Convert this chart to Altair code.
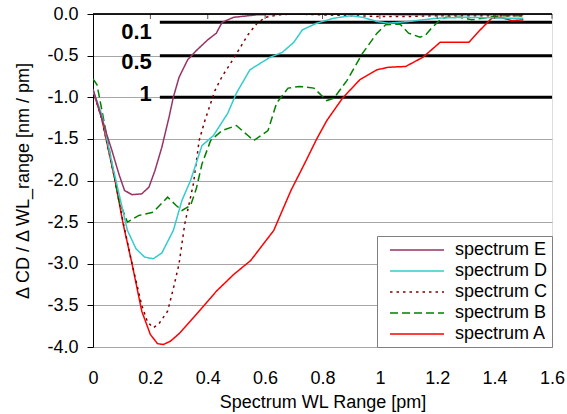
import altair as alt
import pandas as pd

series_names = ["spectrum E", "spectrum D", "spectrum C", "spectrum B", "spectrum A"]
series_colors = ["#993366", "#33CCCC", "#800000", "#008000", "#FF0000"]
series_dash = [[1, 0], [1, 0], [2.5, 4], [8, 4], [1, 0]]
series_width = [1.5, 1.5, 2.5, 2, 1.5]

a_x = [0, 0.03, 0.077, 0.105, 0.136, 0.17, 0.2, 0.225, 0.245, 0.27, 0.30, 0.36, 0.43, 0.49, 0.55,
       0.63, 0.69, 0.74, 0.78, 0.815, 0.87, 0.93, 0.99, 1.03, 1.09, 1.15, 1.21, 1.27, 1.31, 1.35,
       1.39, 1.42, 1.46, 1.50]
a_y = [-0.92, -1.25, -2.0, -2.52, -3.0, -3.57, -3.85, -3.96, -3.97, -3.93, -3.84, -3.61, -3.33,
       -3.13, -2.96, -2.6, -2.12, -1.78, -1.5, -1.28, -1.01, -0.79, -0.67, -0.64, -0.63, -0.52,
       -0.34, -0.34, -0.34, -0.19, -0.05, -0.04, -0.08, -0.07]

b_x = [0, 0.014, 0.05, 0.09, 0.12, 0.16, 0.21, 0.26, 0.29, 0.31, 0.34, 0.36, 0.38, 0.41, 0.45,
       0.50, 0.54, 0.56, 0.61, 0.64, 0.68, 0.72, 0.77, 0.815, 0.84, 0.885, 0.94, 0.99, 1.02,
       1.07, 1.1, 1.14, 1.16, 1.18, 1.21, 1.23, 1.28, 1.32, 1.38, 1.42, 1.5]
b_y = [-0.78, -0.85, -1.5, -2.24, -2.5, -2.42, -2.38, -2.2, -2.3, -2.36, -2.3, -2.1, -1.8, -1.52,
       -1.4, -1.34, -1.46, -1.52, -1.4, -1.07, -0.89, -0.87, -0.89, -1.04, -1.01, -0.8, -0.47,
       -0.23, -0.13, -0.12, -0.23, -0.28, -0.25, -0.17, -0.07, -0.04, -0.04, -0.07, -0.04, -0.02,
       -0.02]

c_x = [0, 0.03, 0.077, 0.105, 0.136, 0.17, 0.19, 0.21, 0.23, 0.26, 0.28, 0.30, 0.32, 0.35, 0.37,
       0.39, 0.425, 0.45, 0.48, 0.51, 0.54, 0.57, 0.6, 0.65, 0.7, 0.8, 1.0, 1.1, 1.2, 1.3, 1.4, 1.5]
c_y = [-0.92, -1.25, -2.0, -2.5, -3.0, -3.5, -3.7, -3.77, -3.72, -3.57, -3.3, -3.0, -2.52, -2.04,
       -1.52, -1.28, -0.92, -0.75, -0.59, -0.42, -0.25, -0.12, -0.04, -0.01, 0.0, -0.01, -0.03,
       -0.03, -0.02, -0.02, -0.02, -0.02]

d_x = [0, 0.03, 0.07, 0.1, 0.12, 0.15, 0.18, 0.21, 0.24, 0.28, 0.31, 0.34, 0.38, 0.42, 0.47, 0.50,
       0.547, 0.617, 0.66, 0.70, 0.73, 0.78, 0.84, 0.9, 0.94, 0.99, 1.03, 1.1, 1.2, 1.3, 1.45, 1.5]
d_y = [-0.92, -1.2, -1.85, -2.3, -2.6, -2.82, -2.92, -2.94, -2.87, -2.6, -2.24, -2.0, -1.58, -1.46,
       -1.19, -0.95, -0.67, -0.52, -0.46, -0.34, -0.19, -0.11, -0.05, -0.02, -0.04, -0.09, -0.11,
       -0.09, -0.05, -0.04, -0.05, -0.05]

e_x = [0, 0.04, 0.066, 0.09, 0.11, 0.136, 0.17, 0.195, 0.216, 0.24, 0.265, 0.28, 0.30, 0.33, 0.36,
       0.40, 0.43, 0.45, 0.49, 0.57, 0.7, 0.9, 1.1, 1.3, 1.5]
e_y = [-0.9, -1.36, -1.64, -1.92, -2.12, -2.17, -2.16, -2.08, -1.88, -1.6, -1.24, -1.0, -0.76,
       -0.55, -0.44, -0.31, -0.23, -0.1, -0.04, -0.01, 0.0, 0.0, -0.01, -0.01, -0.01]

ref_levels = [-0.1, -0.5, -1.0]
ref_labels = ["0.1", "0.5", "1"]
ref_label_y = [-0.22, -0.58, -0.96]
ref_x_start = 0.233
ref_x_end = 1.6
ref_label_x = 0.205

x_ticks = [0, 0.2, 0.4, 0.6, 0.8, 1.0, 1.2, 1.4, 1.6]
y_ticks = [0, -0.5, -1.0, -1.5, -2.0, -2.5, -3.0, -3.5, -4.0]

rows = []
for name, xs, ys in [("spectrum A", a_x, a_y), ("spectrum B", b_x, b_y), ("spectrum C", c_x, c_y),
                     ("spectrum D", d_x, d_y), ("spectrum E", e_x, e_y)]:
    for i, (xv, yv) in enumerate(zip(xs, ys)):
        rows.append({"series": name, "x": xv, "y": yv, "i": i})
df = pd.DataFrame(rows)

ref_df = pd.DataFrame({"level": ref_levels, "label": ref_labels, "ly": ref_label_y,
                       "x0": [ref_x_start] * 3, "x1": [ref_x_end] * 3, "lx": [ref_label_x] * 3})
tick_df = pd.DataFrame({"t": x_ticks[1:]})

FONT = "Liberation Sans"
FS = 18

xscale = alt.Scale(domain=[0, 1.6], nice=False, zero=False)
yscale = alt.Scale(domain=[-4, 0], nice=False, zero=False)

lines = alt.Chart(df).mark_line(clip=True).encode(
    x=alt.X("x:Q", scale=xscale,
            axis=alt.Axis(title="Spectrum WL Range [pm]", values=x_ticks, format="~g",
                          ticks=False, tickSize=0, domain=False, grid=False, labelFlush=False,
                          labelPadding=22, labelFontSize=FS, labelFont=FONT, labelColor="black",
                          titleFont=FONT, titleFontSize=FS, titleFontWeight="normal",
                          titleColor="black", titleY=55, titleBaseline="middle")),
    y=alt.Y("y:Q", scale=yscale,
            axis=alt.Axis(title="Δ CD / Δ WL_range [nm / pm]", values=y_ticks,
                          labelExpr="datum.value < 0 ? '-' + format(-datum.value, '.1f') : format(datum.value, '.1f')",
                          domain=True, domainColor="black", domainWidth=1, labelFlush=False,
                          ticks=True, tickColor="black", tickSize=6, labelPadding=9,
                          grid=True, gridColor="#A6A6A6", gridWidth=1,
                          labelFontSize=FS, labelFont=FONT, labelColor="black",
                          titleFont=FONT, titleFontSize=FS, titleFontWeight="normal",
                          titleColor="black", titleX=-70, titleY=166.5, titleBaseline="middle")),
    color=alt.Color("series:N", scale=alt.Scale(domain=series_names, range=series_colors),
                    legend=alt.Legend(title=None, orient="bottom-right", offset=0, padding=4,
                                      fillColor="white", strokeColor="#808080",
                                      labelFont=FONT, labelFontSize=FS, labelColor="black",
                                      labelExpr="datum.label + '  '",
                                      symbolType="M-1,0H5", symbolSize=324, rowPadding=2,
                                      labelOffset=46, symbolOffset=8)),
    strokeDash=alt.StrokeDash("series:N", scale=alt.Scale(domain=series_names, range=series_dash)),
    strokeWidth=alt.StrokeWidth("series:N", scale=alt.Scale(domain=series_names, range=series_width)),
    order="i:Q",
)

ref_rules = alt.Chart(ref_df).mark_rule(color="black", strokeWidth=3).encode(
    x=alt.X("x0:Q", scale=xscale), x2="x1:Q", y=alt.Y("level:Q", scale=yscale))

ref_text = alt.Chart(ref_df).mark_text(align="right", baseline="middle", font=FONT,
                                       fontSize=22, fontWeight="bold", color="black").encode(
    x=alt.X("lx:Q", scale=xscale), y=alt.Y("ly:Q", scale=yscale), text="label:N")

top_line = alt.Chart(ref_df).mark_rule(color="black", strokeWidth=1).encode(
    x=alt.X(datum=0, scale=xscale), x2=alt.X2(datum=1.6), y=alt.Y(datum=0, scale=yscale))

top_ticks = alt.Chart(tick_df).mark_rule(color="#555555", strokeWidth=1).encode(
    x=alt.X("t:Q", scale=xscale), y=alt.Y(datum=0, scale=yscale), y2=alt.Y2(datum=-0.06))

chart = alt.layer(ref_rules, lines, ref_text, top_ticks, top_line).properties(
    width=459, height=333,
    autosize=alt.AutoSizeParams(type="none"),
    padding={"left": 93, "top": 14, "right": 15, "bottom": 67},
).configure_view(stroke="#808080", strokeWidth=1).configure(background="white")

chart.save("out.html", embed_options={"renderer": "svg", "actions": False})
